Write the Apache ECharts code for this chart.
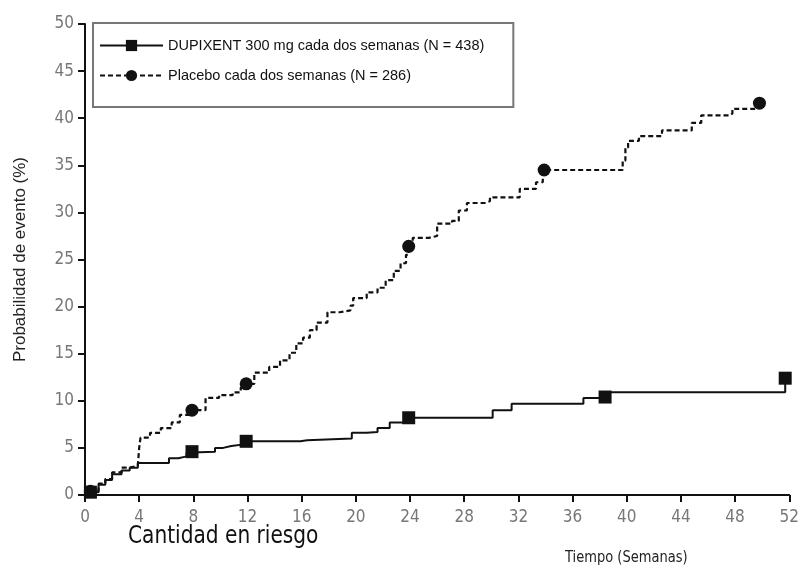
<!DOCTYPE html>
<html>
<head>
<meta charset="utf-8">
<script src="https://cdn.jsdelivr.net/npm/echarts@6/dist/echarts.min.js"></script>
<style>
html,body{margin:0;padding:0;background:#fff;}
#chart{width:802px;height:567px;}
</style>
</head>
<body>
<div id="chart"></div>
<script>
// Tick labels
const xTicks = [0,4,8,12,16,20,24,28,32,36,40,44,48,52];
const yTicks = [0,5,10,15,20,25,30,35,40,45,50];

// Series names
const seriesNames = ['DUPIXENT 300 mg cada dos semanas (N = 438)', 'Placebo cada dos semanas (N = 286)'];

// DUPIXENT step curve: [week, % event]
const dupixentCurve = [
  [0,0],[0.4,0.3],[1,1.1],[1.5,1.6],[2,2.2],[2.7,2.6],[3.3,2.9],[3.9,3.4],
  [6.2,3.9],[6.9,4.1],[7.5,4.5],[7.9,4.6],[9.6,5.0],[10.2,5.2],[10.8,5.4],[11.9,5.7],
  [15.9,5.8],[16.4,6.0],[19.7,6.6],[20.8,6.7],[21.6,7.1],[22.5,7.7],[23.9,8.2],
  [30.1,9.0],[31.5,9.7],[36.8,10.3],[38.4,10.4],[38.7,10.9],[51.7,12.4]
];
// Points on DUPIXENT curve carrying a square marker
const dupixentMarkers = [0.4, 7.9, 11.9, 23.9, 38.4, 51.7];

// Placebo step curve: [week, % event]
const placeboCurve = [
  [0,0],[0.4,0.4],[1,1.2],[1.5,1.7],[2,2.4],[2.7,2.9],[3.3,3.1],[3.9,3.3],[4.0,5.0],[4.1,6.1],
  [4.8,6.6],[5.6,7.1],[6.4,7.7],[7.0,8.5],[7.9,9.0],[8.9,10.3],[9.9,10.6],[10.9,10.9],
  [11.5,11.4],[11.9,11.8],[12.5,13.0],[13.6,13.6],[14.4,14.3],[15.1,15.1],[15.6,16.1],
  [16.1,16.7],[16.6,17.5],[17.1,18.3],[17.9,19.4],[18.8,19.6],[19.6,20.1],[19.8,20.9],
  [20.8,21.5],[21.6,22.0],[22.2,22.8],[22.8,23.8],[23.3,24.6],[23.7,25.5],[23.9,26.4],
  [24.2,27.3],[25.4,27.5],[26.0,28.8],[27.1,29.1],[27.6,30.2],[28.2,31.0],[29.6,31.2],
  [29.9,31.6],[32.1,32.5],[33.3,33.2],[33.8,34.2],[33.9,34.5],[39.7,35.5],[39.9,36.9],
  [40.1,37.6],[40.9,38.1],[42.6,38.7],[44.8,39.5],[45.5,40.3],[47.6,40.5],[47.8,41.0],
  [49.6,41.1],[49.8,41.6]
];
// Points on Placebo curve carrying a circle marker
const placeboMarkers = [0.4, 7.9, 11.9, 23.9, 33.9, 49.8];

function withMarkers(curve, markers){
  return curve.map(p => markers.indexOf(p[0]) >= 0 ? {value:p} : {value:p, symbol:'none'});
}

const narrow = "'Liberation Sans Narrow','Arial Narrow','DejaVu Sans Condensed','Liberation Sans',sans-serif";

const chart = echarts.init(document.getElementById('chart'));
chart.setOption({
  animation:false,
  backgroundColor:'#fff',
  grid:{left:85, right:12, top:24, bottom:72, containLabel:false},
  legend:{
    orient:'vertical', left:93, top:23,
    backgroundColor:'#fff',
    borderColor:'#777', borderWidth:2,
    padding:[15,29,24,6],
    itemGap:15, itemWidth:63, itemHeight:14,
    textStyle:{fontFamily:"'Liberation Sans',Arial,sans-serif", fontSize:14.5, color:'#111'},
    data: seriesNames
  },
  xAxis:{
    type:'value', min:0, max:52, interval:4,
    axisLine:{lineStyle:{color:'#111', width:2}},
    axisTick:{show:true, length:7, lineStyle:{color:'#111', width:2}},
    axisLabel:{color:'#777', fontSize:17, fontFamily:narrow, margin:14,
      formatter: v => xTicks.indexOf(v) >= 0 ? String(v) : ''},
    splitLine:{show:false}
  },
  yAxis:{
    type:'value', min:0, max:50, interval:5,
    name:'Probabilidad de evento (%)', nameLocation:'middle', nameGap:56,
    nameTextStyle:{color:'#222', fontSize:17, fontFamily:"'Liberation Sans',Arial,sans-serif"},
    axisLine:{show:true, lineStyle:{color:'#111', width:2}},
    axisTick:{show:true, length:7, lineStyle:{color:'#111', width:2}},
    axisLabel:{color:'#777', fontSize:17, fontFamily:narrow, margin:11,
      formatter: v => yTicks.indexOf(v) >= 0 ? String(v) : ''},
    splitLine:{show:false}
  },
  series:[
    {
      name:seriesNames[0], type:'line', step:'end',
      symbol:'rect', symbolSize:13,
      itemStyle:{color:'#111'},
      lineStyle:{color:'#111', width:2, type:'solid'},
      data: withMarkers(dupixentCurve, dupixentMarkers),
      z:3
    },
    {
      name:seriesNames[1], type:'line', step:'end',
      symbol:'circle', symbolSize:13,
      itemStyle:{color:'#111'},
      lineStyle:{color:'#111', width:2.2, type:[5,3]},
      data: withMarkers(placeboCurve, placeboMarkers),
      z:2
    }
  ],
  graphic:[
    {type:'text', left:128, top:525, scaleY:1.1, style:{text:'Cantidad en riesgo', fontSize:22.4, fontFamily:narrow, fill:'#111'}},
    {type:'text', left:565, top:550, scaleY:1.1, style:{text:'Tiempo (Semanas)', fontSize:14.5, fontFamily:narrow, fill:'#222'}}
  ]
});
</script>
</body>
</html>
